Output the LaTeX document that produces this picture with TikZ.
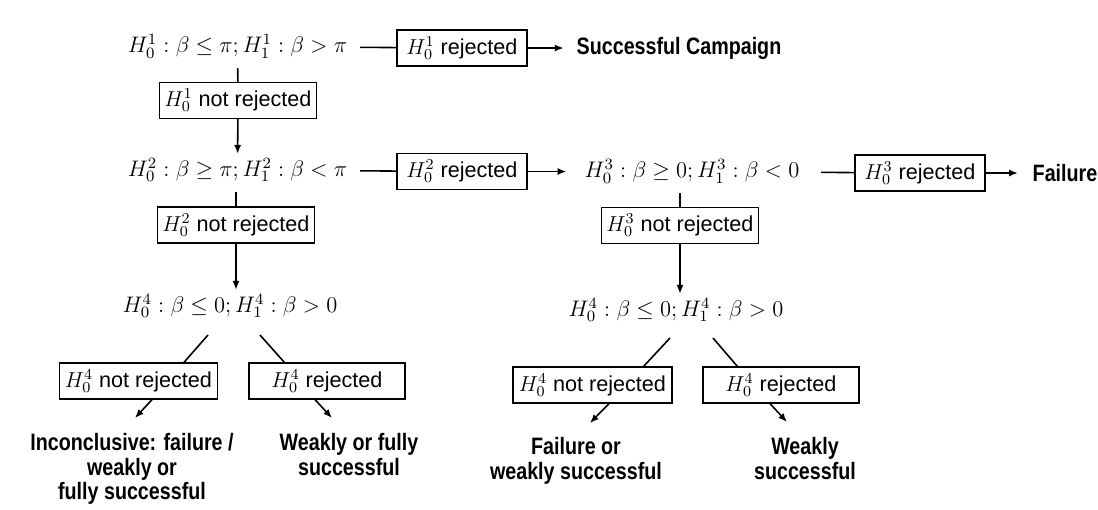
\RequirePackage{fix-cm}
\documentclass[tikz,border=0pt]{standalone}
\usepackage{fontspec}
\setsansfont{Liberation Sans}
\newfontfamily\condfont[FakeStretch=0.83]{Liberation Sans}
\usetikzlibrary{arrows.meta}

\begin{document}
\begin{tikzpicture}[line width=0.9pt, >={Latex[length=5pt,width=4pt]}]
  \tikzstyle{hyp} = [inner sep=2pt, font=\fontsize{12.8}{15}\selectfont]
  \tikzstyle{rej} = [rectangle, draw, line width=0.7pt, inner xsep=3pt, minimum width=2.6cm, minimum height=0.72cm,
                                    font=\sffamily\fontsize{12.3}{14}\selectfont]
  \tikzstyle{nrej} = [rej, minimum width=3.12cm]
  \tikzstyle{outcome} = [align=center, inner sep=0pt, font=\condfont\bfseries\fontsize{13.5}{13.8}\selectfont]
\useasboundingbox (0,0) rectangle (21.96,-10.18);
\node[hyp](hypA) at (4.75,-0.93){$H_0^1:\beta\leq\pi; H_1^1:\beta>\pi$};
\node[rej](rejA) at (9.24,-0.96){$H_0^1$ rejected};
\node[outcome](campaign) at (13.58,-0.96){Successful Campaign};
\node[nrej](notA) at (4.76,-2.01){$H_0^1$ not rejected};
\node[hyp](hypB) at (4.75,-3.40){$H_0^2:\beta\geq\pi; H_1^2:\beta<\pi$};
\node[rej](rejB) at (9.24,-3.43){$H_0^2$ rejected};
\node[hyp](hypC) at (13.84,-3.43){$H_0^3:\beta\geq 0; H_1^3:\beta<0$};
\node[rej](rejC) at (18.40,-3.46){$H_0^3$ rejected};
\node[outcome](failure) at (21.30,-3.46){Failure};
\node[nrej](notB) at (4.72,-4.50){$H_0^2$ not rejected};
\node[nrej](notC) at (13.60,-4.51){$H_0^3$ not rejected};
\node[hyp](hypD) at (4.60,-6.12){$H_0^4:\beta\leq 0; H_1^4:\beta>0$};
\node[hyp](hypE) at (13.52,-6.20){$H_0^4:\beta\leq 0; H_1^4:\beta>0$};
\node[nrej](notD) at (2.77,-7.62){$H_0^4$ not rejected};
\node[nrej](rejD) at (6.54,-7.62){$H_0^4$ rejected};
\node[nrej, minimum width=3.18cm](notE) at (11.85,-7.70){$H_0^4$ not rejected};
\node[nrej](rejE) at (15.62,-7.70){$H_0^4$ rejected};
\node[outcome, anchor=north](inconcl) at (2.64,-8.66){Inconclusive: failure /\\ weakly or\\ fully successful};
\node[outcome, anchor=north](weakfull) at (6.98,-8.66){Weakly or fully\\ successful};
\node[outcome, anchor=north](failweak) at (11.52,-8.74){Failure or\\ weakly successful};
\node[outcome, anchor=north](weakly) at (16.10,-8.74){Weakly\\ successful};
\draw[shorten <=5pt] (hypA) -- (rejA);
\draw[->, shorten >=7pt] (rejA) -- (campaign);
\draw[shorten <=3pt] (hypA) -- (notA);
\draw[->] (notA) -- (hypB);
\draw[shorten <=5pt] (hypB) -- (rejB);
\draw[->, shorten >=8pt] (rejB) -- (hypC);
\draw[shorten <=10pt] (hypC) -- (rejC);
\draw[->, shorten >=8pt] (rejC) -- (failure);
\draw[shorten <=3pt] (hypB.south -| notB) -- (notB);
\draw[->] (notB) -- (notB |- hypD.north);
\draw[shorten <=3pt] (hypC.south -| notC) -- (notC);
\draw[->] (notC) -- (notC |- hypE.north);
\draw ([shift={(-0.44,-0.58)}]hypD.center) -- ([xshift=-0.68cm]notD.north east);
\draw ([shift={(0.60,-0.58)}]hypD.center) -- ([xshift=0.72cm]rejD.north west);
\draw ([shift={(-0.12,-0.56)}]hypE.center) -- ([xshift=-0.58cm]notE.north east);
\draw ([shift={(0.74,-0.56)}]hypE.center) -- ([xshift=0.70cm]rejE.north west);
\draw[->] ([xshift=0.27cm]notD.south) -- ([shift={(0.06,0.30)}]inconcl.north);
\draw[->] ([xshift=-0.24cm]rejD.south) -- ([shift={(-0.34,0.30)}]weakfull.north);
\draw[->] ([xshift=0.33cm]notE.south) -- ([shift={(0.28,0.28)}]failweak.north);
\draw[->] ([xshift=-0.22cm]rejE.south) -- ([shift={(-0.36,0.30)}]weakly.north);
\end{tikzpicture}
\end{document}
